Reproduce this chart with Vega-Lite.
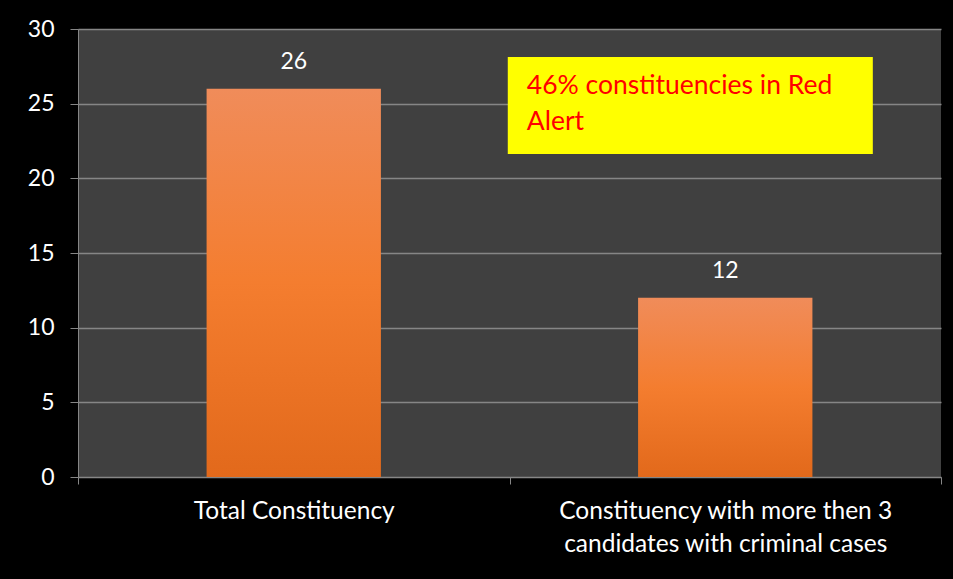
{
  "$schema": "https://vega.github.io/schema/vega-lite/v6.json",
  "autosize": "none",
  "width": 863,
  "height": 448,
  "padding": {"left": 78, "top": 29, "right": 12, "bottom": 102},
  "background": "#000000",
  "config": {"view": {"fill": "#404040", "stroke": null}, "font": "Lato"},
  "data": {"values": [
    {"category": "Total Constituency", "count": 26},
    {"category": "Constituency with more then 3|candidates with criminal cases", "count": 12}
  ]},
  "layer": [
    {
      "encoding": {
        "x": {
          "field": "category", "type": "nominal", "sort": null,
          "scale": {"paddingInner": 0, "paddingOuter": 0},
          "axis": {
            "title": null, "labelAngle": 0, "tickBand": "extent",
            "domainColor": "#868686", "tickColor": "#868686", "tickSize": 7,
            "labelColor": "#ffffff", "labelFontSize": 24.5, "labelFont": "Lato",
            "labelPadding": 15, "labelLineHeight": 33, "labelLimit": 0,
            "labelExpr": "split(datum.label, '|')"
          }
        },
        "y": {
          "field": "count", "type": "quantitative",
          "scale": {"domain": [0, 30], "nice": false},
          "axis": {
            "title": null, "values": [0, 5, 10, 15, 20, 25, 30],
            "grid": true, "gridColor": "#868686", "gridWidth": 1.5,
            "domainColor": "#868686", "tickColor": "#868686", "tickSize": 8,
            "labelColor": "#ffffff", "labelFontSize": 23, "labelFont": "Lato",
            "labelPadding": 16
          }
        }
      },
      "layer": [
        {
          "mark": {
            "type": "bar",
            "width": {"band": 0.404},
            "color": {
              "gradient": "linear", "x1": 0, "y1": 0, "x2": 0, "y2": 1,
              "stops": [
                {"offset": 0, "color": "#F08C5A"},
                {"offset": 0.5, "color": "#F47D2F"},
                {"offset": 1, "color": "#E2691B"}
              ]
            }
          }
        },
        {
          "mark": {"type": "text", "baseline": "bottom", "dy": -15, "fontSize": 23, "color": "#ffffff", "font": "Lato"},
          "encoding": {
            "text": {"field": "count", "type": "quantitative"}
          }
        }
      ]
    },
    {
      "data": {"values": [{"note": "46% constituencies in Red|Alert"}]},
      "layer": [
        {
          "mark": {"type": "rect", "color": "#FFFF00"},
          "encoding": {
            "x": {"datum": 0.498, "type": "quantitative", "scale": {"domain": [0, 1]}, "axis": null},
            "x2": {"datum": 0.921},
            "y": {"datum": 28.13, "type": "quantitative"},
            "y2": {"datum": 21.63}
          }
        },
        {
          "mark": {"type": "text", "align": "left", "baseline": "top", "lineBreak": "|", "lineHeight": 36, "fontSize": 26.5, "color": "#FF0000", "font": "Lato"},
          "encoding": {
            "x": {"datum": 0.52, "type": "quantitative", "scale": {"domain": [0, 1]}, "axis": null},
            "y": {"datum": 27.05, "type": "quantitative"},
            "text": {"field": "note", "type": "nominal"}
          }
        }
      ]
    }
  ],
  "resolve": {"scale": {"x": "independent"}}
}
